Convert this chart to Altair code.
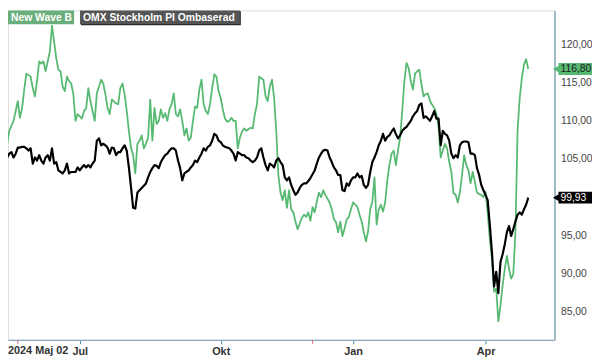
import altair as alt
import pandas as pd

# trading-day index (0 = 2024-05-02)
green_day = [2, 4, 5, 6, 8, 9, 10, 11, 12, 13, 14, 16, 17, 18, 19, 20, 21, 22, 23, 25, 26, 27, 28, 29, 30,
             31, 32, 33, 34, 35, 36, 37, 38, 40, 41, 42, 43, 44, 45, 46, 47, 49, 50, 51, 52, 53, 54, 56, 57,
             58, 59, 60, 61, 62, 63, 64, 65, 66, 67, 68, 69, 70, 71, 72, 73, 74, 75, 76, 77, 78, 79, 80, 81,
             82, 83, 84, 85, 86, 87, 88, 89, 90, 91, 92, 93, 94, 95, 96, 97, 98, 99, 100, 101, 102, 103, 104,
             105, 106, 107, 108, 109, 110, 111, 112, 113, 114, 115, 116, 117, 119, 120, 121, 122, 123, 124,
             125, 126, 127, 128, 129, 130, 131, 132, 133, 134, 135, 136, 137, 138, 139, 140, 141, 143, 144,
             145, 146, 147, 148, 149, 150, 151, 152, 153, 154, 156, 157, 158, 159, 160, 161, 162, 163, 164,
             165, 166, 167, 168, 169, 170, 171, 172, 173, 174, 175, 176, 177, 178, 179, 180, 181, 182, 183,
             184, 185, 186, 187, 188, 189, 190, 191, 192, 193, 194, 195, 196, 197, 198, 199, 200, 201, 202,
             203, 204, 205, 206, 207, 208, 210, 211, 212, 213, 214, 215, 216, 217, 218, 219, 220, 221, 222,
             223, 224, 225, 226, 227, 228, 229, 230, 231, 232, 233, 234, 235, 236, 237, 238, 239, 240, 241,
             242, 243, 244, 245, 246, 247, 248, 249]
green_val = [103.9, 105.2, 107.0, 108.7, 110.0, 111.3, 112.6, 110.4, 111.7, 114.1, 116.2, 115.8, 114.3, 113.2,
             115.2, 117.8, 117.5, 117.8, 116.5, 119.1, 122.5, 120.4, 118.2, 116.7, 116.5,
             114.5, 113.9, 115.8, 115.2, 114.9, 113.5, 110.0, 110.9, 110.3, 111.3, 111.6, 114.3, 112.6, 111.3,
             110.0, 113.6, 115.4, 114.9, 113.5, 111.7, 110.9, 112.8, 112.3, 112.2,
             114.3, 114.9, 113.5, 111.3, 108.7, 106.5, 105.5, 103.1, 107.0, 107.4, 108.1, 106.4, 107.0, 107.8,
             112.8, 107.4, 111.7, 109.6, 110.0, 111.5, 110.4, 111.0, 110.0, 111.5,
             112.2, 113.6, 110.9, 110.6, 111.5, 110.0, 108.1, 109.0, 107.4, 107.8, 110.0, 111.9, 111.7, 114.1,
             115.4, 112.2, 111.3, 110.9, 112.2, 114.3, 116.1, 115.8, 113.9,
             113.0, 111.5, 110.3, 109.9, 110.0, 110.4, 110.0, 110.0, 106.4, 107.8, 108.6, 109.0, 108.7, 109.1,
             109.0, 110.9, 112.2, 115.8, 115.6,
             115.4, 113.2, 112.6, 114.5, 115.4, 113.0, 108.7, 102.9, 100.6, 99.6, 100.9, 98.6, 100.9, 98.4,
             98.0, 96.8, 95.8, 97.3, 97.7,
             97.4, 98.0, 96.9, 98.7, 98.0, 99.4, 100.6, 100.0, 100.9, 100.3, 99.3, 98.4, 97.1, 96.7, 95.4, 96.8,
             94.9, 95.9, 97.1,
             97.4, 98.4, 99.3, 99.0, 98.7, 97.7, 96.8, 95.4, 94.2, 95.5, 98.4, 99.4, 102.6, 96.4, 98.4, 99.0,
             98.1, 99.3, 102.2,
             104.2, 105.7, 106.1, 104.2, 106.1, 107.8, 111.3, 115.2, 117.6, 116.9, 115.2, 114.1, 116.2, 116.5,
             116.7, 114.8, 113.2, 113.5, 113.6,
             112.6, 112.1, 111.7, 110.9, 109.3, 105.2, 107.0, 106.4, 104.6, 103.3, 100.5, 100.3, 99.3, 100.6,
             102.9, 105.5, 104.2, 103.5, 101.8,
             103.3, 102.0, 100.6, 100.4, 100.3, 100.0, 100.7, 98.0, 94.5, 91.9, 87.6, 88.0, 83.7, 85.8, 88.4,
             90.6, 92.3, 90.6, 89.3,
             89.9, 95.4, 108.7, 113.0, 115.6, 117.4, 118.1, 116.8]

black_day = [2, 3, 4, 5, 6, 7, 8, 9, 10, 11, 12, 13, 14, 15, 16, 17, 18, 19, 20, 21, 22, 23, 24, 25, 26, 27, 28,
             29, 30, 31, 32, 33, 34, 35, 37, 38, 39, 40, 41, 42, 43, 44, 45, 46, 47, 48, 49, 50, 51, 52, 53, 54,
             55, 56, 57, 58, 59, 60, 61, 62, 63, 64, 65, 66, 67, 68, 69, 70, 71, 72, 73, 74, 75, 76, 77, 78, 79,
             80, 81, 82, 83, 84, 85, 86, 87, 88, 89, 90, 91, 92, 93, 94, 95, 96, 97, 98, 99, 100, 101, 102, 103,
             104, 105, 106, 107, 108, 109, 110, 111, 112, 113, 114, 115, 116, 117, 118, 119, 120, 121, 122, 123,
             124, 125, 126, 127, 128, 129, 130, 131, 132, 133, 134, 135, 136, 137, 138, 139, 140, 141, 142, 143,
             144, 145, 146, 147, 148, 149, 150, 151, 152, 153, 154, 155, 156, 157, 158, 159, 160, 161, 162, 163,
             164, 165, 166, 167, 168, 169, 170, 171, 172, 173, 174, 175, 176, 177, 178, 179, 180, 181, 182, 183,
             184, 185, 186, 187, 188, 189, 190, 191, 192, 193, 194, 195, 196, 197, 198, 199, 200, 201, 202, 203,
             204, 205, 206, 207, 208, 209, 210, 211, 212, 213, 214, 215, 216, 217, 218, 219, 220, 221, 222, 223,
             224, 225, 226, 227, 228, 229, 230, 231, 232, 233, 234, 235, 236, 237, 238, 239, 240, 241, 242, 243,
             244, 245, 246, 247, 248, 249]
black_val = [102.2, 103.3, 104.4, 105.2, 105.7, 105.9, 105.2, 105.7, 106.5, 106.5, 106.6, 106.6, 106.4, 106.1,
             106.4, 104.4, 105.2, 104.8, 105.5, 104.8, 104.4, 105.2, 105.5, 104.8, 106.4, 104.4, 104.6,
             103.5, 103.3, 103.1, 103.5, 104.4, 103.1, 103.3, 103.3, 103.9, 103.5, 103.9, 104.2, 103.9, 104.2,
             103.9, 104.4, 104.8, 107.4, 107.7, 106.8, 107.0, 106.8, 106.5, 105.7, 106.5,
             106.4, 105.5, 105.9, 105.9, 106.4, 106.8, 106.1, 103.9, 101.3, 98.6, 98.5, 100.6, 100.9, 101.2,
             101.5, 101.8, 102.6, 103.3, 103.8, 104.2, 104.1, 103.8, 104.6, 105.1, 105.5,
             105.7, 106.1, 106.4, 106.4, 106.1, 104.8, 103.8, 102.2, 103.1, 103.3, 103.5, 103.9, 104.2, 104.8,
             104.6, 105.2, 105.7, 106.4, 106.1, 106.6, 106.8, 107.4, 108.3, 108.1,
             107.4, 107.2, 106.8, 106.6, 106.5, 106.4, 106.1, 105.7, 104.8, 105.9, 105.7, 105.5, 105.5, 105.2,
             105.1, 104.8, 104.6, 104.8, 105.2, 106.1,
             106.4, 105.2, 104.2, 103.5, 104.4, 104.2, 103.9, 104.8, 105.1, 104.6, 104.2, 102.6, 102.2, 102.6,
             101.6, 100.9, 100.3, 100.6, 101.2, 101.6,
             101.8, 101.8, 102.1, 102.5, 103.0, 103.5, 104.4, 105.2, 105.7, 106.1, 106.2, 106.1, 105.2, 104.6,
             103.9, 103.5, 102.9, 102.9, 100.9, 100.8,
             101.8, 101.5, 102.2, 102.6, 102.6, 103.1, 102.6, 102.8, 101.6, 101.2, 101.6, 103.3, 104.6, 105.2,
             105.9, 106.8, 107.4, 108.3, 107.4, 107.9,
             108.1, 108.6, 109.0, 108.3, 107.7, 108.1, 108.7, 109.0, 109.2, 109.6, 110.0, 110.6, 111.0, 111.3,
             112.1, 112.3, 110.4, 110.6, 110.3, 110.0,
             110.6, 111.3, 110.3, 110.3, 106.8, 108.7, 108.3, 108.1, 107.4, 105.7, 105.1, 105.5, 105.2, 106.8,
             107.2, 107.3, 107.3, 107.2, 105.7, 105.7,
             105.5, 103.8, 102.9, 101.6, 100.9, 100.3, 99.6, 96.4, 92.8, 88.3, 90.2, 87.4, 91.5, 92.5, 93.8,
             95.4, 96.2, 94.9, 95.8, 96.8,
             97.7, 98.0, 97.7, 98.4, 99.0, 99.93]

month_days = [39, 105, 167, 229]
month_labels = ["Jul", "Okt", "Jan", "Apr"]
marker_days = [10, 148]
y_ticks = [85, 90, 95, 105, 110, 115, 120]

series_names = ["New Wave B", "OMX Stockholm PI Ombaserad"]
last_labels = ["116,80", "99,93"]

GREEN = "#58ba72"
AXIS = "#86aabb"
W, H = 554, 334

green_df = pd.DataFrame({"day": green_day, "value": green_val})
black_df = pd.DataFrame({"day": black_day, "value": black_val})

xscale = alt.Scale(domain=[5.4, 261.3], nice=False, zero=False)
yscale = alt.Scale(domain=[81.28, 124.49], nice=False, zero=False)

label_map = "{" + ",".join(f"'{d}':'{l}'" for d, l in zip(month_days, month_labels)) + "}"

x_enc = alt.X("day:Q", scale=xscale, axis=alt.Axis(
    values=month_days, labelExpr=f"{label_map}[datum.value]", title=None, grid=False,
    domainColor=AXIS, domainWidth=1.5, tickColor="#4e8fa6", tickSize=4, tickWidth=1,
    labelFont="Liberation Sans", labelFontSize=11, labelFontWeight="bold", labelColor="#333",
    labelPadding=2))
y_enc = alt.Y("value:Q", scale=yscale, axis=alt.Axis(
    orient="right", values=y_ticks, labelExpr="replace(format(datum.value, '.2f'), '.', ',')",
    title=None, grid=False, domainColor=AXIS, domainWidth=1.5, ticks=False,
    labelFont="Liberation Sans", labelFontSize=10.5, labelColor="#444", labelPadding=6,
    labelAlign="left", labelBaseline="middle"))

green_line = alt.Chart(green_df).mark_line(color=GREEN, strokeWidth=1.8, strokeJoin="round",
                                           clip=True).encode(x=x_enc, y=y_enc)
black_line = alt.Chart(black_df).mark_line(color="#000", strokeWidth=2.2, strokeJoin="round",
                                           clip=True).encode(
    x=alt.X("day:Q", scale=xscale), y=alt.Y("value:Q", scale=yscale))

markers = alt.Chart(pd.DataFrame({"day": marker_days})).mark_rule(color="#e07080", strokeWidth=1).encode(
    x=alt.X("day:Q", scale=xscale), y=alt.value(H), y2=alt.value(H + 4))

start_label = alt.Chart(pd.DataFrame({"t": ["2024 Maj 02"]})).mark_text(
    align="left", baseline="middle", font="Liberation Sans", fontSize=11, fontWeight="bold", color="#333"
).encode(x=alt.value(0), y=alt.value(H + 11), text="t:N")

legend_df = pd.DataFrame({"name": series_names, "x0": [0, 73], "x1": [67, 235],
                          "fill": ["#6aae7b", "#555555"]})
legend_shadow = alt.Chart(legend_df.iloc[[1]]).mark_rect(color="#222").encode(
    x=alt.value(74), x2=alt.value(236), y=alt.value(1), y2=alt.value(15))
legend_box = alt.Chart(legend_df).mark_rect().encode(
    x=alt.X("x0:Q", scale=None), x2="x1:Q", y=alt.value(0), y2=alt.value(14),
    color=alt.Color("fill:N", scale=None))
legend_text = alt.Chart(legend_df).mark_text(
    align="left", baseline="middle", font="Liberation Sans", fontSize=10.5, fontWeight="bold", color="white"
).encode(x=alt.X("xt:Q", scale=None), y=alt.value(7.5), text="name:N").transform_calculate(
    xt="datum.x0 + 3")

badge_df = pd.DataFrame({"value": [green_val[-1], black_val[-1]], "label": last_labels,
                         "fill": [GREEN, "#000000"], "tc": ["#1a1a1a", "#ffffff"]})
badge_bar = alt.Chart(badge_df).mark_rule(strokeWidth=12, strokeCap="butt").encode(
    x=alt.value(558), x2=alt.value(620), y=alt.Y("value:Q", scale=yscale),
    color=alt.Color("fill:N", scale=None))
badge_tip = alt.Chart(badge_df).mark_point(shape="triangle-left", filled=True, size=70, opacity=1).encode(
    x=alt.value(556), y=alt.Y("value:Q", scale=yscale), color=alt.Color("fill:N", scale=None))
badge_text = alt.Chart(badge_df).mark_text(
    align="left", baseline="middle", font="Liberation Sans", fontSize=10.5).encode(
    x=alt.value(560), y=alt.Y("value:Q", scale=yscale), text="label:N",
    color=alt.Color("tc:N", scale=None))

chart = alt.layer(
    green_line, black_line, markers, start_label, legend_shadow, legend_box, legend_text,
    badge_bar, badge_tip, badge_text
).properties(
    width=W, height=H, autosize="none",
    padding={"left": 0, "top": 0, "right": 38, "bottom": 19}
).configure_view(stroke=None).configure(background="white")

chart.save("out.html", embed_options={"renderer": "svg", "actions": False})
